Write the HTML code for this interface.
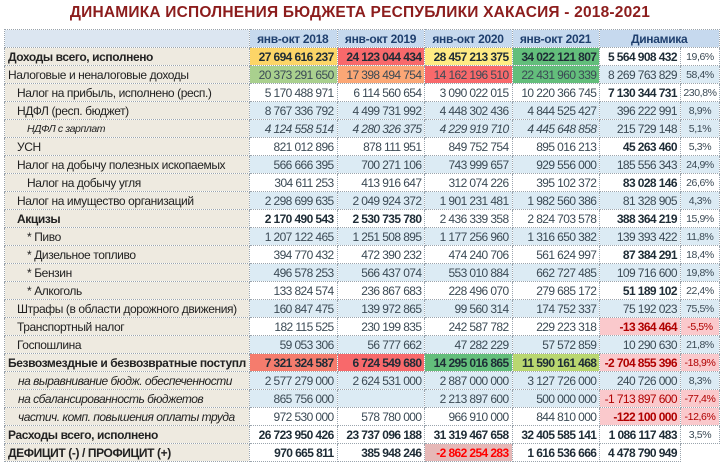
<!DOCTYPE html>
<html><head><meta charset="utf-8"><style>
*{margin:0;padding:0;box-sizing:border-box}
body{width:720px;height:465px;background:#fff;position:relative;overflow:hidden;font-family:"Liberation Sans",sans-serif}
h1{position:absolute;top:4px;left:0;width:720px;text-align:center;font-size:15.5px;font-weight:bold;color:#8c1d1d;letter-spacing:0.2px}
table{position:absolute;left:4px;top:29px;border-collapse:collapse;table-layout:fixed}
td{height:18px;border:1px dotted #9aa4ad;font-size:12px;letter-spacing:-0.6px;color:#3b4a55;text-align:right;padding:0 3px 0 2px;white-space:nowrap;overflow:hidden;background:#fff;line-height:16px}
td.l{text-align:left;background:#eeeae0;color:#222;letter-spacing:-0.4px;padding-left:3px}
td.i1{padding-left:12px}
td.i2{padding-left:13px;font-style:italic;font-size:12px;letter-spacing:-0.5px}
td.i3{padding-left:22px;font-style:italic;font-size:10.5px}
td.p{font-size:10.5px;text-align:center;letter-spacing:-0.4px;padding:0}
.b{font-weight:bold;color:#1e2c36}
tr.bl td:not(.l){background:#dcebf4}
tr.h td{background:#c6d9ee;font-weight:bold;color:#1f3f6e;text-align:center;letter-spacing:-0.3px}
tr.h td.l{background:#dce6f1}
.y{background:#fcd567!important}.r{background:#f8696b!important}.g1{background:#a9d08e!important}.o{background:#fba776!important}
.y2{background:#ffeb84!important}.g{background:#63be7b!important}.g2{background:#b9d770!important}.s{background:#f57c6d!important}
.n{background:#fac9cc!important;color:#b00000!important}
.d{background:#e6b8b7!important;color:#ff0000!important}
</style></head><body>
<h1>ДИНАМИКА ИСПОЛНЕНИЯ БЮДЖЕТА РЕСПУБЛИКИ ХАКАСИЯ - 2018-2021</h1>
<table>
<colgroup><col style="width:219px"><col style="width:92px"><col style="width:92px"><col style="width:91px"><col style="width:92px"><col style="width:82px"><col style="width:42px"></colgroup>
<tr class="h"><td class="l"></td><td>янв-окт 2018</td><td>янв-окт 2019</td><td>янв-окт 2020</td><td>янв-окт 2021</td><td colspan="2">Динамика</td></tr>
<tr><td class="l b">Доходы всего, исполнено</td><td class="b y">27 694 616 237</td><td class="b r">24 123 044 434</td><td class="b y2">28 457 213 375</td><td class="b g">34 022 121 807</td><td class="b">5 564 908 432</td><td class="p">19,6%</td></tr>
<tr class="bl"><td class="l">Налоговые и неналоговые доходы</td><td class="g1">20 373 291 650</td><td class="o">17 398 494 754</td><td class="r">14 162 196 510</td><td class="g">22 431 960 339</td><td>8 269 763 829</td><td class="p">58,4%</td></tr>
<tr><td class="l i1">Налог на прибыль, исполнено (респ.)</td><td>5 170 488 971</td><td>6 114 560 654</td><td>3 090 022 015</td><td>10 220 366 745</td><td class="b">7 130 344 731</td><td class="p">230,8%</td></tr>
<tr class="bl"><td class="l i1">НДФЛ (респ. бюджет)</td><td>8 767 336 792</td><td>4 499 731 992</td><td>4 448 302 436</td><td>4 844 525 427</td><td>396 222 991</td><td class="p">8,9%</td></tr>
<tr class="bl"><td class="l i3">НДФЛ с зарплат</td><td style="font-style:italic">4 124 558 514</td><td style="font-style:italic">4 280 326 375</td><td style="font-style:italic">4 229 919 710</td><td style="font-style:italic">4 445 648 858</td><td>215 729 148</td><td class="p">5,1%</td></tr>
<tr><td class="l i1">УСН</td><td>821 012 896</td><td>878 111 951</td><td>849 752 754</td><td>895 016 213</td><td class="b">45 263 460</td><td class="p">5,3%</td></tr>
<tr class="bl"><td class="l i1">Налог на добычу полезных ископаемых</td><td>566 666 395</td><td>700 271 106</td><td>743 999 657</td><td>929 556 000</td><td>185 556 343</td><td class="p">24,9%</td></tr>
<tr><td class="l" style="padding-left:22px">Налог на добычу угля</td><td>304 611 253</td><td>413 916 647</td><td>312 074 226</td><td>395 102 372</td><td class="b">83 028 146</td><td class="p">26,6%</td></tr>
<tr class="bl"><td class="l i1">Налог на имущество организаций</td><td>2 298 699 635</td><td>2 049 924 372</td><td>1 901 231 481</td><td>1 982 560 386</td><td>81 328 905</td><td class="p">4,3%</td></tr>
<tr><td class="l i1 b">Акцизы</td><td class="b">2 170 490 543</td><td class="b">2 530 735 780</td><td>2 436 339 358</td><td>2 824 703 578</td><td class="b">388 364 219</td><td class="p">15,9%</td></tr>
<tr class="bl"><td class="l" style="padding-left:22px">* Пиво</td><td>1 207 122 465</td><td>1 251 508 895</td><td>1 177 256 960</td><td>1 316 650 382</td><td>139 393 422</td><td class="p">11,8%</td></tr>
<tr><td class="l" style="padding-left:22px">* Дизельное топливо</td><td>394 770 432</td><td>472 390 232</td><td>474 240 706</td><td>561 624 997</td><td class="b">87 384 291</td><td class="p">18,4%</td></tr>
<tr class="bl"><td class="l" style="padding-left:22px">* Бензин</td><td>496 578 253</td><td>566 437 074</td><td>553 010 884</td><td>662 727 485</td><td>109 716 600</td><td class="p">19,8%</td></tr>
<tr><td class="l" style="padding-left:22px">* Алкоголь</td><td>133 824 574</td><td>236 867 683</td><td>228 496 070</td><td>279 685 172</td><td class="b">51 189 102</td><td class="p">22,4%</td></tr>
<tr class="bl"><td class="l i1">Штрафы (в области дорожного движения)</td><td>160 847 475</td><td>139 972 865</td><td>99 560 314</td><td>174 752 337</td><td>75 192 023</td><td class="p">75,5%</td></tr>
<tr><td class="l i1">Транспортный налог</td><td>182 115 525</td><td>230 199 835</td><td>242 587 782</td><td>229 223 318</td><td class="b n">-13 364 464</td><td class="p n">-5,5%</td></tr>
<tr class="bl"><td class="l i1">Госпошлина</td><td>59 053 306</td><td>56 777 662</td><td>47 282 229</td><td>57 572 859</td><td>10 290 630</td><td class="p">21,8%</td></tr>
<tr><td class="l b">Безвозмездные и безвозвратные поступл</td><td class="b s">7 321 324 587</td><td class="b r">6 724 549 680</td><td class="b g">14 295 016 865</td><td class="b g2">11 590 161 468</td><td class="b n">-2 704 855 396</td><td class="p n">-18,9%</td></tr>
<tr class="bl"><td class="l i2">на выравнивание бюдж. обеспеченности</td><td>2 577 279 000</td><td>2 624 531 000</td><td>2 887 000 000</td><td>3 127 726 000</td><td>240 726 000</td><td class="p">8,3%</td></tr>
<tr class="bl"><td class="l i2">на сбалансированность бюджетов</td><td>865 756 000</td><td></td><td>2 213 897 600</td><td>500 000 000</td><td class="n">-1 713 897 600</td><td class="p n">-77,4%</td></tr>
<tr><td class="l i2">частич. комп. повышения оплаты труда</td><td>972 530 000</td><td>578 780 000</td><td>966 910 000</td><td>844 810 000</td><td class="b n">-122 100 000</td><td class="p n">-12,6%</td></tr>
<tr><td class="l b">Расходы всего, исполнено</td><td class="b">26 723 950 426</td><td class="b">23 737 096 188</td><td class="b">31 319 467 658</td><td class="b">32 405 585 141</td><td class="b">1 086 117 483</td><td class="p">3,5%</td></tr>
<tr><td class="l b">ДЕФИЦИТ (-) / ПРОФИЦИТ (+)</td><td class="b">970 665 811</td><td class="b">385 948 246</td><td class="b d">-2 862 254 283</td><td class="b">1 616 536 666</td><td class="b">4 478 790 949</td><td class="p" style="border:none"></td></tr>
</table>
</body></html>
